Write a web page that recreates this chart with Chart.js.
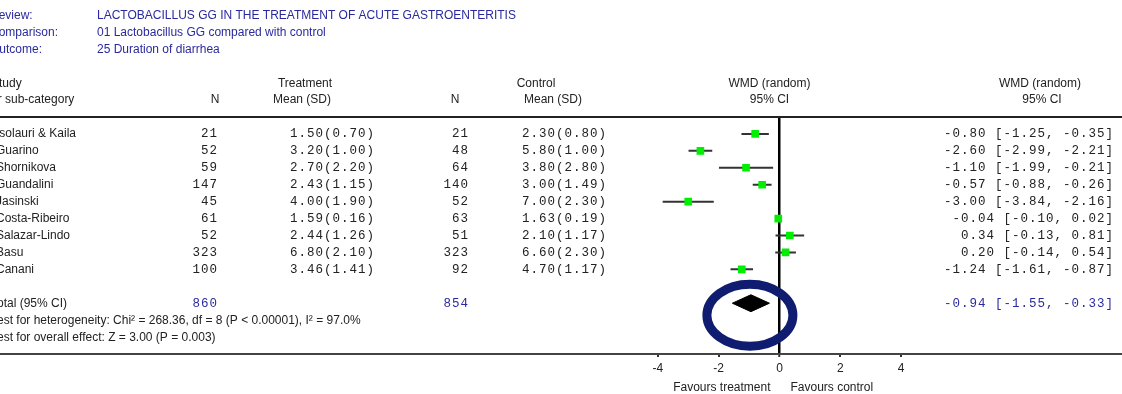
<!DOCTYPE html>
<html>
<head>
<meta charset="utf-8">
<script src="https://cdn.jsdelivr.net/npm/chart.js@4.4.1/dist/chart.umd.min.js"></script>
<style>
  html, body { margin: 0; padding: 0; background: #fff; }
  #wrap { width: 1122px; height: 394px; }
</style>
</head>
<body>
<div id="wrap"><canvas id="forest" width="1122" height="394"></canvas></div>
<script>
// Datos del forest plot
const estudios = ['Isolauri & Kaila', 'Guarino', 'Shornikova', 'Guandalini', 'Jasinski', 'Costa-Ribeiro', 'Salazar-Lindo', 'Basu', 'Canani'];
const nTratamiento = [21, 52, 59, 147, 45, 61, 52, 323, 100];
const mediaTratamiento = ['1.50(0.70)', '3.20(1.00)', '2.70(2.20)', '2.43(1.15)', '4.00(1.90)', '1.59(0.16)', '2.44(1.26)', '6.80(2.10)', '3.46(1.41)'];
const nControl = [21, 48, 64, 140, 52, 63, 51, 323, 92];
const mediaControl = ['2.30(0.80)', '5.80(1.00)', '3.80(2.80)', '3.00(1.49)', '7.00(2.30)', '1.63(0.19)', '2.10(1.17)', '6.60(2.30)', '4.70(1.17)'];
const wmd = [-0.80, -2.60, -1.10, -0.57, -3.00, -0.04, 0.34, 0.20, -1.24];
const icInf = [-1.25, -2.99, -1.99, -0.88, -3.84, -0.10, -0.13, -0.14, -1.61];
const icSup = [-0.35, -2.21, -0.21, -0.26, -2.16, 0.02, 0.81, 0.54, -0.87];

const totalN = [860, 854];
const totalWmd = -0.94;
const totalIc = [-1.55, -0.33];
const filaTotal = 10;
const ticksX = [-4, -2, 0, 2, 4];

const AZUL = '#2a2a9e';
const NEGRO = '#222';
const SANS = '"Liberation Sans", Arial, sans-serif';
const MONO = '"Liberation Mono", "Courier New", monospace';

const fmt = v => (v < 0 ? '-' : '') + Math.abs(v).toFixed(2);
const fmtIc = (e, a, b) => `${e < 0 ? '' : ' '}${fmt(e)} [${fmt(a)}, ${fmt(b)}]`;

// Líneas de IC, una por estudio
const lineasIc = estudios.map((_, i) => ({
  type: 'line',
  data: [{ x: icInf[i], y: i }, { x: icSup[i], y: i }],
  borderColor: '#333',
  borderWidth: 2,
  pointRadius: 0,
  order: 2
}));

// Textos de la tabla y encabezados
const textos = {
  id: 'textos',
  afterDraw(chart) {
    const { ctx, scales: { x, y } } = chart;
    const t = (s, px, py, align, font, color) => {
      ctx.font = font;
      ctx.letterSpacing = font === mono ? '1px' : '0px';
      ctx.fillStyle = color || NEGRO;
      ctx.textAlign = align;
      ctx.textBaseline = 'middle';
      ctx.fillText(s, px, py);
    };
    const sans = `12px ${SANS}`;
    const mono = `12.5px ${MONO}`;
    ctx.save();

    t('Review:', -10, 16, 'left', sans, AZUL);
    t('Comparison:', -10, 33, 'left', sans, AZUL);
    t('Outcome:', -10, 50, 'left', sans, AZUL);
    t('LACTOBACILLUS GG IN THE TREATMENT OF ACUTE GASTROENTERITIS', 97, 16, 'left', sans, AZUL);
    t('01 Lactobacillus GG compared with control', 97, 33, 'left', sans, AZUL);
    t('25 Duration of diarrhea', 97, 50, 'left', sans, AZUL);

    t('Study', -9, 84, 'left', sans);
    t('or sub-category', -9, 100, 'left', sans);
    t('Treatment', 305, 84, 'center', sans);
    t('N', 215, 100, 'center', sans);
    t('Mean (SD)', 302, 100, 'center', sans);
    t('Control', 536, 84, 'center', sans);
    t('N', 455, 100, 'center', sans);
    t('Mean (SD)', 553, 100, 'center', sans);
    t('WMD (random)', x.getPixelForValue(0) - 10, 84, 'center', sans);
    t('95% CI', x.getPixelForValue(0) - 10, 100, 'center', sans);
    t('WMD (random)', 1040, 84, 'center', sans);
    t('95% CI', 1042, 100, 'center', sans);

    // Línea bajo el encabezado
    ctx.strokeStyle = '#222';
    ctx.lineWidth = 2;
    ctx.beginPath();
    ctx.moveTo(0, chart.chartArea.top);
    ctx.lineTo(chart.width, chart.chartArea.top);
    ctx.stroke();

    estudios.forEach((nombre, i) => {
      const py = y.getPixelForValue(i);
      t(nombre, -4, py, 'left', sans);
      t(String(nTratamiento[i]), 218, py, 'right', mono);
      t(mediaTratamiento[i], 290, py, 'left', mono);
      t(String(nControl[i]), 469, py, 'right', mono);
      t(mediaControl[i], 522, py, 'left', mono);
      t(fmtIc(wmd[i], icInf[i], icSup[i]), 1114, py, 'right', mono);
    });

    const pt = y.getPixelForValue(filaTotal);
    t('Total (95% CI)', -9, pt, 'left', sans);
    t(String(totalN[0]), 218, pt, 'right', mono, AZUL);
    t(String(totalN[1]), 469, pt, 'right', mono, AZUL);
    t(fmtIc(totalWmd, totalIc[0], totalIc[1]), 1114, pt, 'right', mono, AZUL);
    t('Test for heterogeneity: Chi\u00b2 = 268.36, df = 8 (P < 0.00001), I\u00b2 = 97.0%', -9, pt + 17, 'left', sans);
    t('Test for overall effect: Z = 3.00 (P = 0.003)', -9, pt + 34, 'left', sans);

    // Eje inferior extendido
    ctx.strokeStyle = '#444';
    ctx.lineWidth = 2;
    ctx.beginPath();
    ctx.moveTo(0, chart.chartArea.bottom);
    ctx.lineTo(chart.width, chart.chartArea.bottom);
    ctx.stroke();

    const x0 = x.getPixelForValue(0);
    t('Favours treatment', x0 - 9, 388, 'right', sans);
    t('Favours control', x0 + 11, 388, 'left', sans);
    ctx.restore();
  }
};

// Elipse azul alrededor del efecto combinado
const elipse = {
  id: 'elipse',
  afterDatasetsDraw(chart) {
    const { ctx, scales: { x, y } } = chart;
    ctx.save();
    ctx.strokeStyle = '#101c70';
    ctx.lineWidth = 9;
    ctx.beginPath();
    ctx.ellipse(x.getPixelForValue(totalWmd) - 1, y.getPixelForValue(filaTotal) + 12, 43, 31, 0, 0, Math.PI * 2);
    ctx.stroke();
    ctx.restore();
  }
};

new Chart(document.getElementById('forest'), {
  data: {
    datasets: [
      ...lineasIc,
      {
        type: 'scatter',
        data: wmd.map((v, i) => ({ x: v, y: i })),
        pointStyle: 'rect',
        pointRadius: 5.4,
        backgroundColor: '#00ee00',
        borderWidth: 0,
        order: 1
      },
      {
        type: 'line',
        data: [
          { x: totalIc[0], y: filaTotal },
          { x: totalWmd, y: filaTotal - 0.5 },
          { x: totalIc[1], y: filaTotal },
          { x: totalWmd, y: filaTotal + 0.5 },
          { x: totalIc[0], y: filaTotal }
        ],
        borderColor: '#000',
        borderWidth: 1,
        backgroundColor: '#000',
        fill: 'shape',
        pointRadius: 0,
        tension: 0,
        order: 1
      }
    ]
  },
  options: {
    responsive: false,
    animation: false,
    devicePixelRatio: 1,
    layout: { padding: { left: 657.8, right: 220.8, top: 117, bottom: 0 } },
    plugins: { legend: { display: false }, tooltip: { enabled: false } },
    scales: {
      x: {
        type: 'linear',
        min: -4,
        max: 4,
        afterFit: s => { s.height = 40; },
        afterBuildTicks: s => { s.ticks = ticksX.map(v => ({ value: v })); },
        border: { display: false },
        grid: {
          color: c => (c.tick && c.tick.value === 0 ? '#000' : 'rgba(0,0,0,0)'),
          lineWidth: c => (c.tick && c.tick.value === 0 ? 2.5 : 0),
          drawTicks: true,
          tickLength: 3,
          tickWidth: 2,
          tickColor: '#333'
        },
        ticks: {
          color: NEGRO,
          padding: 4,
          font: { family: SANS, size: 12 }
        }
      },
      y: {
        type: 'linear',
        display: false,
        reverse: true,
        min: -1,
        max: 13
      }
    }
  },
  plugins: [elipse, textos]
});
</script>
</body>
</html>
